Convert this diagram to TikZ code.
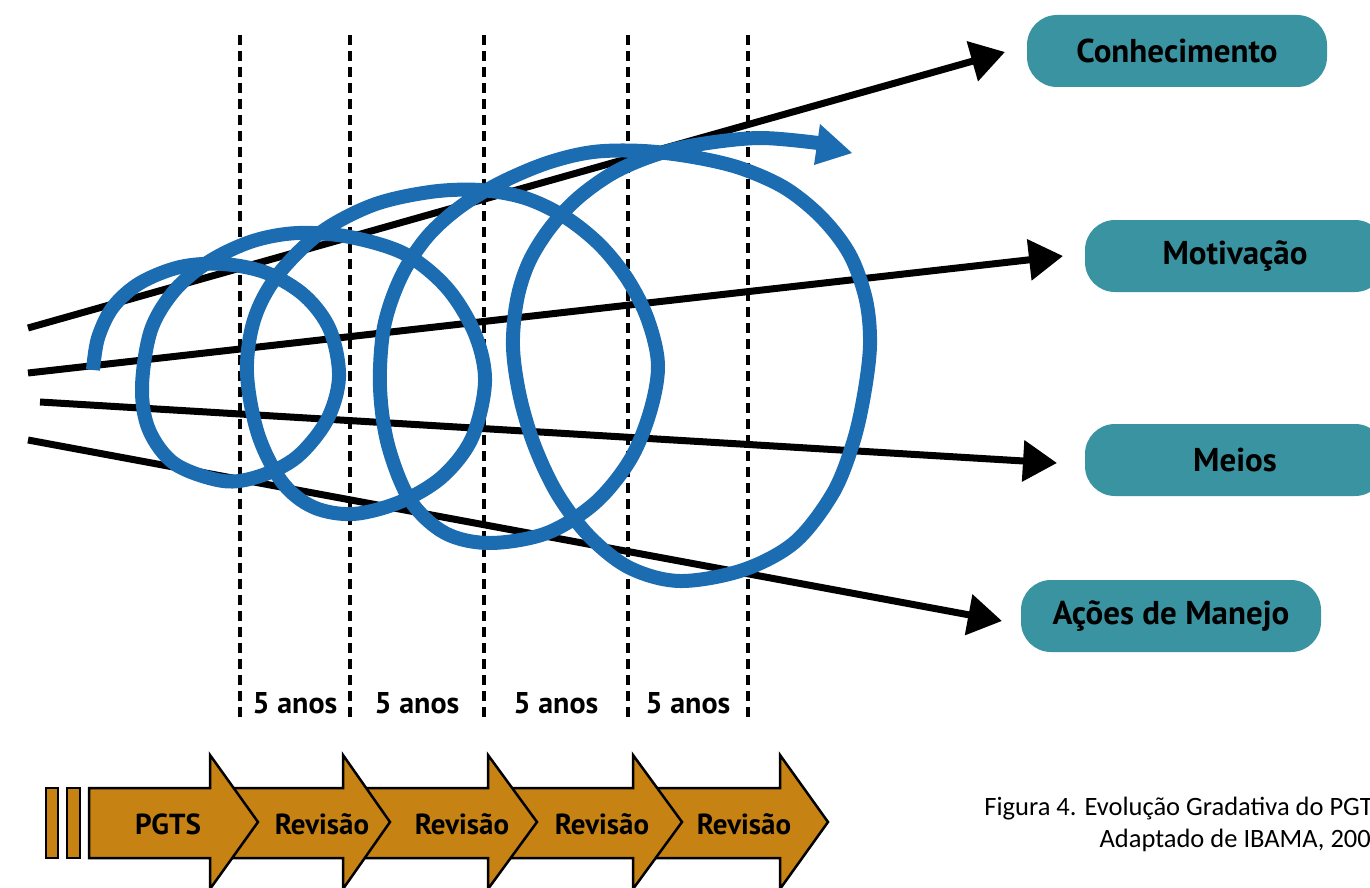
\documentclass[tikz,border=0pt]{standalone}
\usepackage{fontspec}
\setmainfont{PT Sans}
\newfontfamily\capfont{Carlito}
\usetikzlibrary{arrows.meta}
\definecolor{spiralblue}{RGB}{28,108,178}
\definecolor{tealbox}{RGB}{58,147,160}
\definecolor{goldarrow}{RGB}{198,131,20}
\begin{document}
\begin{tikzpicture}[x=1pt,y=-1pt,
  axisline/.style={line width=7pt,-{Triangle[length=34pt,width=40pt]}},
  tagbox/.style={fill=tealbox,rounded corners=30pt,minimum width=300pt,minimum height=72pt,inner sep=0pt,font=\fontsize{33}{33}\selectfont\bfseries},
  dashline/.style={line width=3.5pt,dash pattern=on 10pt off 6pt},
  yearlbl/.style={font=\fontsize{30}{30}\selectfont\bfseries,inner sep=0pt},
  chev/.style={draw=black,line width=2.5pt,fill=goldarrow,line join=miter},
  chevlbl/.style={font=\fontsize{29}{29}\selectfont\bfseries,inner sep=0pt},
  spiralline/.style={draw=spiralblue,line width=14pt},
  captxt/.style={anchor=base east,inner sep=0pt,font=\capfont\fontsize{26.5}{26.5}\selectfont}
]
\useasboundingbox (0,0) rectangle (1370,888);

% boxes
\node[tagbox] (con) at (1177,51) {Conhecimento};
\node[tagbox] (mot) at (1235,256) {Motivação};
\node[tagbox] (mei) at (1235,460) {Meios};
\node[tagbox] (aco) at (1171,616) {Ações de Manejo};

% black axes
\coordinate (s1) at (28,328);  \coordinate (e1) at (1005,52);
\coordinate (s2) at (28,373);  \coordinate (e2) at (1063,256);
\coordinate (s3) at (40,402);  \coordinate (e3) at (1057,463);
\coordinate (s4) at (28,440);  \coordinate (e4) at (1002,621);
\draw[axisline] (s1) -- (e1);
\draw[axisline] (s2) -- (e2);
\draw[axisline] (s3) -- (e3);
\draw[axisline] (s4) -- (e4);

% dashed period lines
\foreach \xx in {240,350,484,628,748}{
  \draw[dashline] (\xx,35) -- (\xx,718);
}

% spiral
\draw[spiralline] plot[smooth,tension=0.55] coordinates {
 (93,370) (98,338) (113,307) (140,283) (180,267) (223,264) (267,273) (305,296)
 (330,330) (339,377) (327,420) (297,457) (260,476) (223,481) (175,464) (149,430)
 (142,387) (151,330) (175,290) (210,261) (253,241) (298,233) (350,237) (405,254)
 (447,288) (475,334) (485,382) (472,438) (442,477) (400,502) (353,514) (313,507)
 (282,482) (258,434) (247,373) (254,320) (277,276) (320,233) (373,205) (430,192)
 (480,190) (525,198) (565,217) (600,245) (628,280) (648,320) (658,365) (650,412)
 (630,460) (595,503) (547,533) (490,543) (445,533) (410,500) (388,445) (380,387)
 (384,327) (401,277) (427,237) (460,207) (500,183) (547,163) (593,152) (643,151)
 (693,157) (740,168) (785,188) (822,218) (850,255) (866,300) (870,345) (864,395)
 (853,443) (833,493) (795,542) (743,570) (680,581) (630,568) (590,537) (558,495)
 (535,447) (520,397) (513,347) (517,300) (529,262) (550,228) (578,198) (613,173)
 (652,156) (695,145) (760,138) (826,144)};
\fill[spiralblue] (820,124) -- (852,153) -- (814,165) -- cycle;

% year labels
\node[yearlbl] (y1) at (295,703) {5 anos};
\node[yearlbl] (y2) at (417,703) {5 anos};
\node[yearlbl] (y3) at (556,703) {5 anos};
\node[yearlbl] (y4) at (688,703) {5 anos};

% bottom chevrons (drawn right to left)
\draw[chev] (633,788) -- (780,788) -- (780,755) -- (828,822) -- (780,889) -- (780,858) -- (633,858) -- cycle;
\draw[chev] (488,788) -- (633,788) -- (633,755) -- (682,822) -- (633,889) -- (633,858) -- (488,858) -- cycle;
\draw[chev] (343,788) -- (488,788) -- (488,755) -- (537,822) -- (488,889) -- (488,858) -- (343,858) -- cycle;
\draw[chev] (210,788) -- (343,788) -- (343,755) -- (390,822) -- (343,889) -- (343,858) -- (210,858) -- cycle;
\draw[chev] (89,788) -- (210,788) -- (210,755) -- (258,822) -- (210,889) -- (210,858) -- (89,858) -- cycle;
\draw[chev] (46,788) rectangle (58,858);
\draw[chev] (67,788) rectangle (80,858);
\node[chevlbl] (p0) at (168,824) {PGTS};
\node[chevlbl] (p1) at (322,824) {Revisão};
\node[chevlbl] (p2) at (462,824) {Revisão};
\node[chevlbl] (p3) at (602,824) {Revisão};
\node[chevlbl] (p4) at (744,824) {Revisão};

% caption
\node[captxt] (cap1) at (1373,815) {Figura 4. Evolução Gradativa do PGT};
\node[captxt] (cap2) at (1371,847) {Adaptado de IBAMA, 200};
\end{tikzpicture}
\end{document}
